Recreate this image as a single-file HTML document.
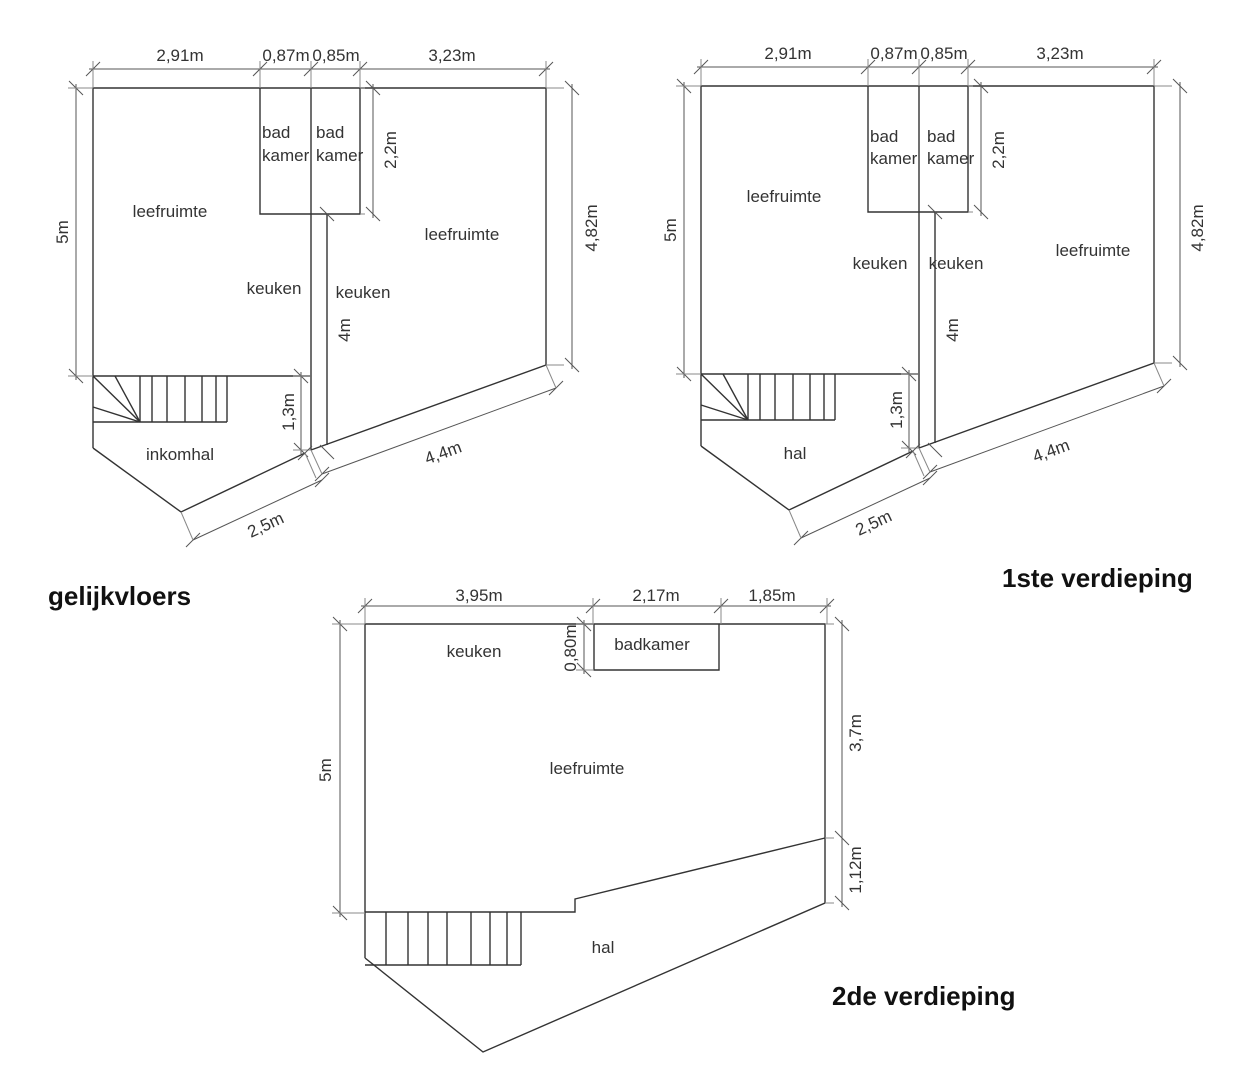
<!DOCTYPE html>
<html><head><meta charset="utf-8">
<style>
html,body{margin:0;padding:0;background:#fff;}
svg{display:block;}
text{font-family:"Liberation Sans",sans-serif;fill:#333;font-size:17px;}
.t{font-size:26px;font-weight:bold;fill:#111;}
</style></head>
<body>
<svg id="s" width="1251" height="1080" viewBox="0 0 1251 1080" xmlns="http://www.w3.org/2000/svg">
<g id="geo" stroke="#333" fill="none" stroke-width="1.4"></g>
<text x="180" y="61" text-anchor="middle">2,91m</text>
<text x="286" y="61" text-anchor="middle">0,87m</text>
<text x="336" y="61" text-anchor="middle">0,85m</text>
<text x="452" y="61" text-anchor="middle">3,23m</text>
<text x="170" y="217" text-anchor="middle">leefruimte</text>
<text x="262" y="138">bad</text><text x="262" y="161">kamer</text>
<text x="316" y="138">bad</text><text x="316" y="161">kamer</text>
<text x="274" y="294" text-anchor="middle">keuken</text>
<text x="363" y="298" text-anchor="middle">keuken</text>
<text x="462" y="240" text-anchor="middle">leefruimte</text>
<text x="180" y="460" text-anchor="middle">inkomhal</text>
<text transform="translate(68,232) rotate(-90)" text-anchor="middle">5m</text>
<text transform="translate(597,228) rotate(-90)" text-anchor="middle">4,82m</text>
<text transform="translate(396,150) rotate(-90)" text-anchor="middle">2,2m</text>
<text transform="translate(294,412) rotate(-90)" text-anchor="middle">1,3m</text>
<text transform="translate(350,330) rotate(-90)" text-anchor="middle">4m</text>
<text transform="translate(445,458) rotate(-20)" text-anchor="middle">4,4m</text>
<text transform="translate(268,530) rotate(-25)" text-anchor="middle">2,5m</text>
<text x="788" y="59" text-anchor="middle">2,91m</text>
<text x="894" y="59" text-anchor="middle">0,87m</text>
<text x="944" y="59" text-anchor="middle">0,85m</text>
<text x="1060" y="59" text-anchor="middle">3,23m</text>
<text x="784" y="202" text-anchor="middle">leefruimte</text>
<text x="870" y="142">bad</text><text x="870" y="164">kamer</text>
<text x="927" y="142">bad</text><text x="927" y="164">kamer</text>
<text x="880" y="269" text-anchor="middle">keuken</text>
<text x="956" y="269" text-anchor="middle">keuken</text>
<text x="1093" y="256" text-anchor="middle">leefruimte</text>
<text x="795" y="459" text-anchor="middle">hal</text>
<text transform="translate(676,230) rotate(-90)" text-anchor="middle">5m</text>
<text transform="translate(1203,228) rotate(-90)" text-anchor="middle">4,82m</text>
<text transform="translate(1004,150) rotate(-90)" text-anchor="middle">2,2m</text>
<text transform="translate(902,410) rotate(-90)" text-anchor="middle">1,3m</text>
<text transform="translate(958,330) rotate(-90)" text-anchor="middle">4m</text>
<text transform="translate(1053,456) rotate(-20)" text-anchor="middle">4,4m</text>
<text transform="translate(876,528) rotate(-25)" text-anchor="middle">2,5m</text>
<text x="479" y="601" text-anchor="middle">3,95m</text>
<text x="656" y="601" text-anchor="middle">2,17m</text>
<text x="772" y="601" text-anchor="middle">1,85m</text>
<text x="474" y="657" text-anchor="middle">keuken</text>
<text x="652" y="650" text-anchor="middle">badkamer</text>
<text x="587" y="774" text-anchor="middle">leefruimte</text>
<text x="603" y="953" text-anchor="middle">hal</text>
<text transform="translate(331,770) rotate(-90)" text-anchor="middle">5m</text>
<text transform="translate(576,648) rotate(-90)" text-anchor="middle">0,80m</text>
<text transform="translate(861,733) rotate(-90)" text-anchor="middle">3,7m</text>
<text transform="translate(861,870) rotate(-90)" text-anchor="middle">1,12m</text>
<text class="t" x="48" y="605">gelijkvloers</text>
<text class="t" x="1002" y="587">1ste verdieping</text>
<text class="t" x="832" y="1005">2de verdieping</text>
</svg>
<script>
var g=document.getElementById('geo'),NS='http://www.w3.org/2000/svg';
function L(x1,y1,x2,y2,w,c){var e=document.createElementNS(NS,'line');e.setAttribute('x1',x1);e.setAttribute('y1',y1);e.setAttribute('x2',x2);e.setAttribute('y2',y2);if(w)e.setAttribute('stroke-width',w);if(c)e.setAttribute('stroke',c);g.appendChild(e);}
function P(pts,w){var e=document.createElementNS(NS,'polyline');e.setAttribute('points',pts.map(function(p){return p.join(',')}).join(' '));if(w)e.setAttribute('stroke-width',w);g.appendChild(e);}
var D='#555';
function tick(x,y){L(x-7,y+7,x+7,y-7,1,D);}
function tickv(x,y){L(x-7,y-7,x+7,y+7,1,D);}
function hdim(y,xs,y0){L(xs[0]-4,y,xs[xs.length-1]+4,y,1,D);xs.forEach(function(x){tick(x,y);L(x,y-8,x,y0,1,'#888');});}
function vdim(x,ys,x0){L(x,ys[0]-4,x,ys[ys.length-1]+4,1,D);ys.forEach(function(y){tickv(x,y);L(x-8,y,x0,y,1,'#888');});}
function plan(dx,dy){
 function X(x){return x+dx;} function Y(y){return y+dy;}
 P([[X(93),Y(448)],[X(93),Y(88)],[X(546),Y(88)],[X(546),Y(365)],[X(311),Y(450)]]);
 P([[X(93),Y(448)],[X(181),Y(512)],[X(305),Y(453)]]);
 P([[X(260),Y(88)],[X(260),Y(214)],[X(360),Y(214)],[X(360),Y(88)]]);
 L(X(311),Y(88),X(311),Y(450));
 L(X(327),Y(214),X(327),Y(445));
 L(X(93),Y(376),X(311),Y(376));
 L(X(93),Y(422),X(227),Y(422));
 [140,152,167,185,202,216,227].forEach(function(x){L(X(x),Y(376),X(x),Y(422));});
 L(X(93),Y(376),X(140),Y(422));L(X(115),Y(376),X(140),Y(422));L(X(93),Y(407),X(140),Y(422));
 hdim(Y(69),[X(93),X(260),X(311),X(360),X(546)],Y(88));
 vdim(X(76),[Y(88),Y(376)],X(93));
 vdim(X(572),[Y(88),Y(365)],X(546));
 vdim(X(373),[Y(88),Y(214)],X(360));
 vdim(X(301),[Y(376),Y(450)],X(311));
 tickv(X(327),Y(214));tickv(X(327),Y(452));
 L(X(322),Y(474),X(556),Y(388),1,D);tick(X(322),Y(474));tick(X(556),Y(388));
 L(X(546),Y(365),X(556),Y(388),1,'#888');L(X(311),Y(450),X(322),Y(474),1,'#888');
 L(X(193),Y(540),X(322),Y(480),1,D);tick(X(193),Y(540));tick(X(322),Y(480));
 L(X(181),Y(512),X(193),Y(540),1,'#888');L(X(305),Y(453),X(316),Y(478),1,'#888');
 tick(X(305),Y(453));
}
plan(0,0);plan(608,-2);
P([[365,958],[365,624],[825,624],[825,903],[483,1052],[365,958]]);
P([[825,838],[575,899],[575,912],[365,912]]);
P([[594,624],[594,670],[719,670],[719,624]]);
L(365,965,521,965);
[386,408,428,447,471,490,507,521].forEach(function(x){L(x,912,x,965);});
hdim(606,[365,593,721,827],624);
vdim(340,[624,913],365);
vdim(584,[624,670],594);
vdim(842,[624,838,903],825);
</script>
</body></html>
